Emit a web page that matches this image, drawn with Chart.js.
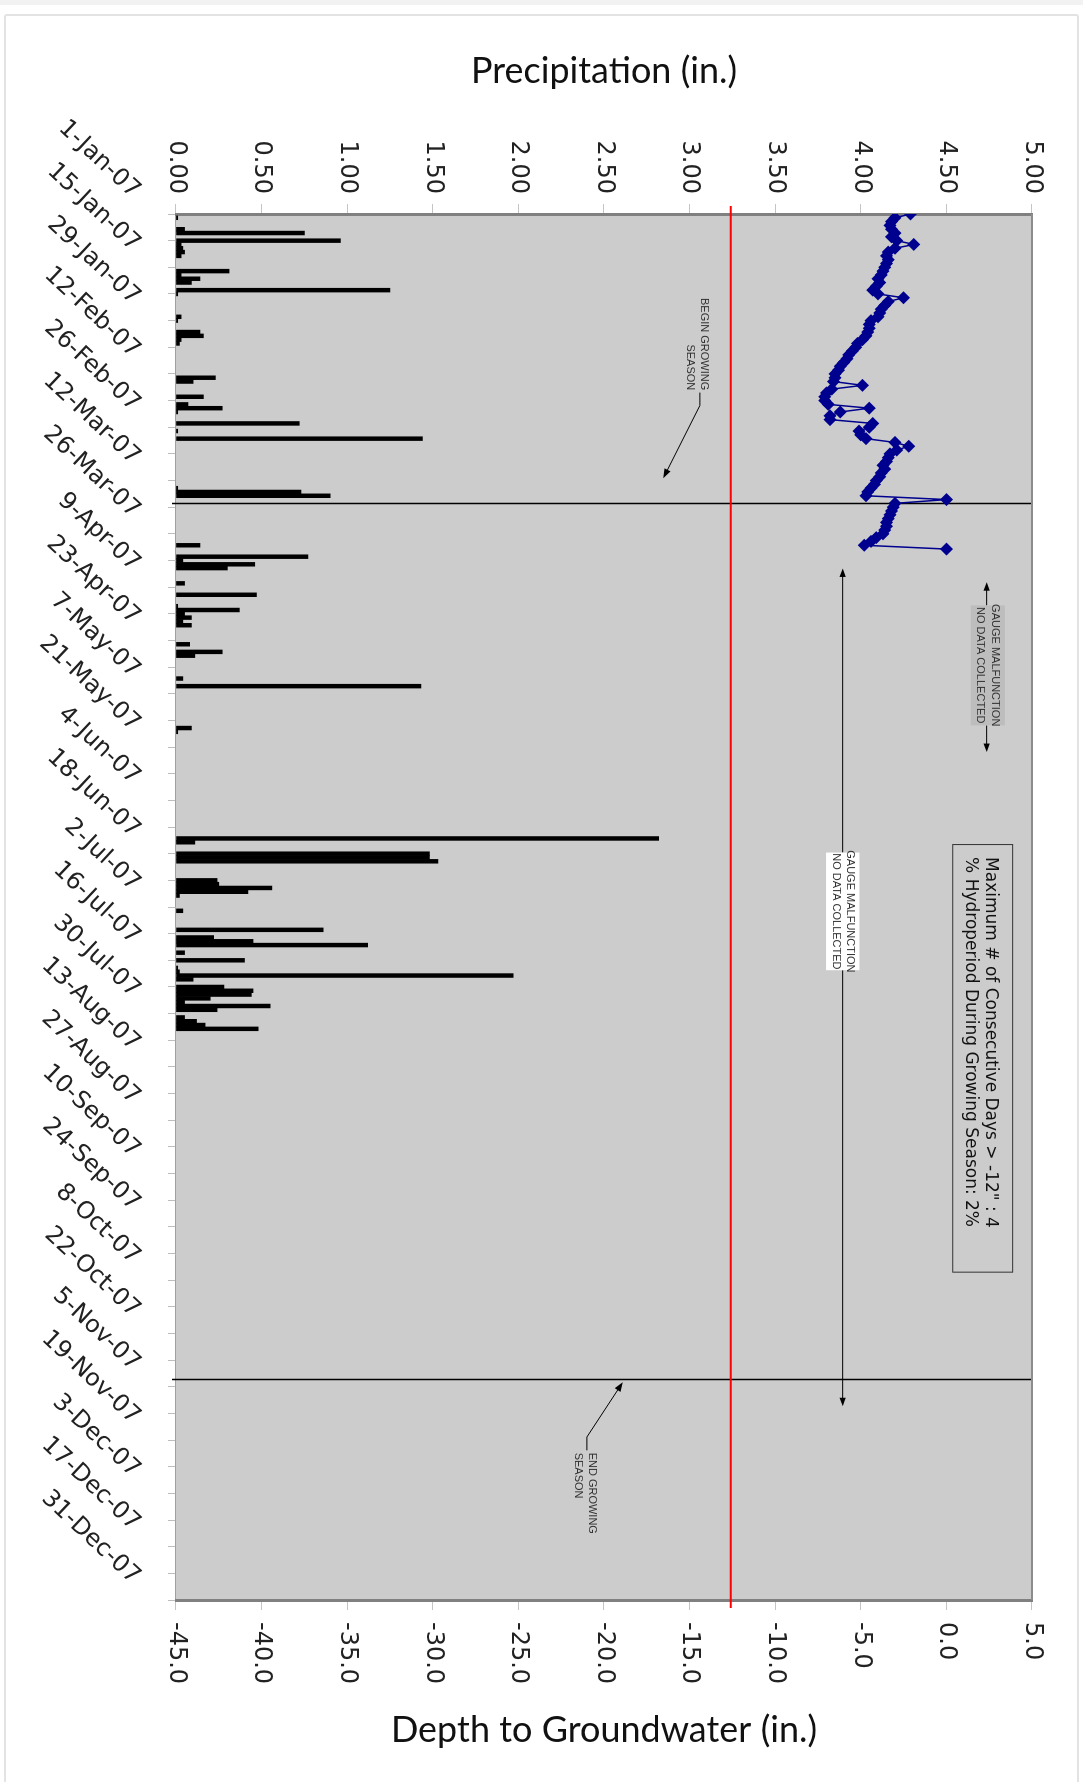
<!DOCTYPE html>
<html>
<head>
<meta charset="utf-8">
<title>Precipitation and Depth to Groundwater 2007</title>
<script src="https://cdn.jsdelivr.net/npm/chart.js@4.4.1/dist/chart.umd.min.js"></script>
<style>
  html, body { margin: 0; padding: 0; background: #fff; }
  body { width: 1083px; height: 1782px; position: relative; overflow: hidden; }
  #topBand { position: absolute; left: 0; top: 0; width: 1083px; height: 5px; background: #f2f2f2; }
  #frame { position: absolute; left: 4px; top: 14px; width: 1071px; height: 1800px; border: 2px solid #e3e3e3; border-radius: 3px; }
  /* the chart is laid out landscape and turned a quarter clockwise */
  #chartWrap { position: absolute; left: 0; top: 0; width: 1782px; height: 1083px; transform-origin: 0 0; transform: translate(1083px, 0) rotate(90deg); }
</style>
</head>
<body>
<div id="topBand"></div>
<div id="frame"></div>
<div id="chartWrap"><canvas id="gwChart" width="1782" height="1083"></canvas></div>
<script>
// --- data (day 0 = 1-Jan-07) ---
const dateTickLabels = ['1-Jan-07', '15-Jan-07', '29-Jan-07', '12-Feb-07', '26-Feb-07', '12-Mar-07', '26-Mar-07',
    '9-Apr-07', '23-Apr-07', '7-May-07', '21-May-07', '4-Jun-07', '18-Jun-07', '2-Jul-07', '16-Jul-07',
    '30-Jul-07', '13-Aug-07', '27-Aug-07', '10-Sep-07', '24-Sep-07', '8-Oct-07', '22-Oct-07', '5-Nov-07',
    '19-Nov-07', '3-Dec-07', '17-Dec-07', '31-Dec-07'];

// daily rainfall, only days with rain
const precipDays = [1, 4, 5, 7, 8, 9, 10, 11, 15, 16, 17, 18, 20, 21, 27, 28, 31, 32, 33, 34,
    43, 44, 48, 50, 51, 52, 55, 57, 59, 72, 73, 74, 87, 90, 91, 92, 93, 97, 100, 103,
    104, 105, 106, 107, 108, 113, 115, 116, 122, 124, 135, 136, 164, 165, 168, 169, 170, 175, 176, 177,
    178, 179, 183, 188, 190, 191, 192, 194, 196, 198, 199, 200, 201, 203, 204, 205, 206, 207, 208, 209,
    211, 212, 213, 214];
const precipInches = [0.01, 0.05, 0.75, 0.96, 0.03, 0.04, 0.05, 0.03, 0.31, 0.03, 0.14, 0.09, 1.25, 0.01, 0.03, 0.01, 0.14, 0.16, 0.03, 0.02,
    0.23, 0.10, 0.16, 0.07, 0.27, 0.01, 0.72, 0.01, 1.44, 0.01, 0.73, 0.90, 0.14, 0.77, 0.04, 0.46, 0.30, 0.05, 0.47, 0.01,
    0.37, 0.05, 0.09, 0.04, 0.09, 0.08, 0.27, 0.11, 0.04, 1.43, 0.09, 0.01, 2.82, 0.11, 1.48, 1.48, 1.53, 0.24, 0.25, 0.56,
    0.42, 0.02, 0.04, 0.86, 0.22, 0.45, 1.12, 0.05, 0.40, 0.01, 0.02, 1.97, 0.10, 0.28, 0.45, 0.44, 0.20, 0.05, 0.55, 0.24,
    0.05, 0.12, 0.17, 0.48];

// daily groundwater depth from the first day until the gauge stopped
const gwStartDay = 0;
const gwDepth = [-2.1, -3.0, -3.2, -3.3, -3.2, -3.0, -3.2, -2.9, -1.9, -3.0,
    -3.4, -3.5, -3.4, -3.5, -3.6, -3.7, -3.8, -4.0, -3.9, -4.1,
    -4.3, -4.0, -2.5, -3.4, -3.6, -3.8, -3.9, -4.0, -4.4, -4.5,
    -4.5, -4.6, -4.7, -4.9, -5.2, -5.3, -5.5, -5.7, -5.8, -6.0,
    -6.2, -6.3, -6.5, -6.5, -6.6, -4.9, -6.7, -7.0, -7.1, -7.1,
    -6.9, -4.5, -6.2, -6.8, -6.8, -4.3, -4.5, -5.1, -5.0, -4.7,
    -3.0, -2.2, -2.9, -3.3, -3.4, -3.5, -3.7, -3.6, -3.8, -3.9,
    -4.1, -4.2, -4.4, -4.6, -4.7, 0.0, -3.0, -3.1, -3.2, -3.3,
    -3.4, -3.5, -3.5, -3.6, -3.7, -4.1, -4.4, -4.8, 0.0];

const thresholdDepth = -12.6;
const seasonStartDay = 76;
const seasonEndDay = 306;

const tickFont = { family: 'DejaVu Sans', size: 24 };
const titleFont = { family: 'Lato', size: 36 };

// small helper: line with a filled arrow head at (x2, y2)
function drawArrow(ctx, x1, y1, x2, y2, head) {
    const ang = Math.atan2(y2 - y1, x2 - x1);
    ctx.beginPath();
    ctx.moveTo(x1, y1);
    ctx.lineTo(x2 - Math.cos(ang) * head * 0.8, y2 - Math.sin(ang) * head * 0.8);
    ctx.stroke();
    ctx.beginPath();
    ctx.moveTo(x2, y2);
    ctx.lineTo(x2 - head * Math.cos(ang - 0.35), y2 - head * Math.sin(ang - 0.35));
    ctx.lineTo(x2 - head * Math.cos(ang + 0.35), y2 - head * Math.sin(ang + 0.35));
    ctx.closePath();
    ctx.fill();
}

const plotFramePlugin = {
    id: 'plotFrame',
    beforeDraw(chart) {
        const { ctx, chartArea: a } = chart;
        ctx.save();
        ctx.fillStyle = '#cccccc';
        ctx.fillRect(a.left, a.top, a.right - a.left, a.bottom - a.top);
        ctx.restore();
    },
    beforeDatasetsDraw(chart) {
        const { ctx, chartArea: a, scales } = chart;
        ctx.save();
        // growing season limits
        ctx.strokeStyle = '#000';
        ctx.lineWidth = 1.5;
        [seasonStartDay, seasonEndDay].forEach(d => {
            const x = Math.round(scales.x.getPixelForValue(d)) + 0.5;
            ctx.beginPath();
            ctx.moveTo(x, a.bottom + 4);
            ctx.lineTo(x, a.top);
            ctx.stroke();
        });
        // -12" threshold
        const yr = scales.yD.getPixelForValue(thresholdDepth);
        ctx.strokeStyle = '#ff0000';
        ctx.lineWidth = 2;
        ctx.beginPath();
        ctx.moveTo(a.left - 8, yr);
        ctx.lineTo(a.right + 8, yr);
        ctx.stroke();
        ctx.restore();
    },
    afterDatasetsDraw(chart) {
        const { ctx, chartArea: a, scales } = chart;
        const X = d => scales.x.getPixelForValue(d);
        const Y = p => scales.yP.getPixelForValue(p);
        ctx.save();
        ctx.fillStyle = '#000';
        ctx.strokeStyle = '#000';
        ctx.lineWidth = 1;

        // begin growing season note
        ctx.font = '11px "Liberation Sans Narrow", "Liberation Sans", sans-serif';
        ctx.fillStyle = '#333';
        ctx.textAlign = 'right';
        ctx.textBaseline = 'middle';
        ctx.fillText('BEGIN GROWING', X(46.3), Y(3.084));
        ctx.fillText('SEASON', X(46.3), Y(3.002));
        ctx.fillStyle = '#000';
        ctx.beginPath();
        ctx.moveTo(X(46.9), Y(3.06));
        ctx.lineTo(X(50.3), Y(3.06));
        ctx.stroke();
        drawArrow(ctx, X(50.3), Y(3.06), X(69.4), Y(2.846), 10);

        // end growing season note
        ctx.fillStyle = '#333';
        ctx.textAlign = 'left';
        ctx.fillText('END GROWING', X(325.3), Y(2.43));
        ctx.fillText('SEASON', X(325.3), Y(2.35));
        ctx.fillStyle = '#000';
        ctx.beginPath();
        ctx.moveTo(X(324.7), Y(2.40));
        ctx.lineTo(X(321.2), Y(2.40));
        ctx.stroke();
        drawArrow(ctx, X(321.2), Y(2.40), X(306.8), Y(2.61), 10);

        // groundwater gauge gap
        ctx.fillStyle = '#000';
        drawArrow(ctx, X(102.8), Y(4.735), X(96.7), Y(4.735), 9);
        drawArrow(ctx, X(134.3), Y(4.735), X(141.3), Y(4.735), 9);
        ctx.fillStyle = '#bdbdbd';
        ctx.fillRect(X(102.8), Y(4.842), X(134.3) - X(102.8), Y(4.642) - Y(4.842));
        ctx.fillStyle = '#333';
        ctx.textAlign = 'center';
        ctx.fillText('GAUGE MALFUNCTION', X(118.5), Y(4.784));
        ctx.fillText('NO DATA COLLECTED', X(118.5), Y(4.696));

        // rain gauge gap
        ctx.fillStyle = '#000';
        drawArrow(ctx, X(167.7), Y(3.894), X(93.1), Y(3.894), 9);
        drawArrow(ctx, X(198.6), Y(3.894), X(313.1), Y(3.894), 9);
        ctx.fillStyle = '#ffffff';
        ctx.fillRect(X(167.7), Y(3.992), X(198.6) - X(167.7), Y(3.797) - Y(3.992));
        ctx.fillStyle = '#333';
        ctx.fillText('GAUGE MALFUNCTION', X(183.15), Y(3.937));
        ctx.fillText('NO DATA COLLECTED', X(183.15), Y(3.855));

        // summary box
        ctx.strokeStyle = '#333';
        ctx.strokeRect(X(165.6), Y(4.887), X(277.9) - X(165.6), Y(4.537) - Y(4.887));
        ctx.fillStyle = '#111';
        ctx.textAlign = 'left';
        ctx.font = '17px "DejaVu Sans", sans-serif';
        ctx.fillText('Maximum # of Consecutive Days > -12" : 4', X(168.9), Y(4.755));
        ctx.fillText('% Hydroperiod During Growing Season: 2%', X(168.9), Y(4.642));
        ctx.restore();
    },
    afterDraw(chart) {
        const { ctx, chartArea: a, scales } = chart;
        ctx.save();
        // top edge of the plot
        ctx.strokeStyle = '#8c8c8c';
        ctx.lineWidth = 2;
        ctx.beginPath();
        ctx.moveTo(a.left, a.top);
        ctx.lineTo(a.right, a.top);
        ctx.stroke();
        // depth axis title, turned so it reads across once the page is rotated
        ctx.translate(scales.yD.right - 52, (a.top + a.bottom) / 2);
        ctx.rotate(-Math.PI / 2);
        ctx.font = `${titleFont.size}px ${titleFont.family}`;
        ctx.fillStyle = '#111';
        ctx.textAlign = 'center';
        ctx.textBaseline = 'middle';
        ctx.fillText('Depth to Groundwater (in.)', 0, 0);
        ctx.restore();
    }
};

const precipData = precipDays.map((d, i) => ({ x: d, y: precipInches[i] }));
const gwData = gwDepth.map((v, i) => ({ x: gwStartDay + i, y: v }));

new Chart(document.getElementById('gwChart'), {
    type: 'bar',
    data: {
        datasets: [
            {
                type: 'line',
                label: 'Depth to Groundwater',
                data: gwData,
                xAxisID: 'x',
                yAxisID: 'yD',
                borderColor: '#00008f',
                backgroundColor: '#00008f',
                borderWidth: 1.5,
                pointStyle: 'rectRot',
                pointRadius: 6.5,
                pointBorderWidth: 0,
                tension: 0,
                order: 0
            },
            {
                type: 'bar',
                label: 'Precipitation',
                data: precipData,
                xAxisID: 'x',
                yAxisID: 'yP',
                backgroundColor: '#000000',
                borderWidth: 0,
                barPercentage: 1,
                categoryPercentage: 1,
                order: 1
            }
        ]
    },
    options: {
        responsive: false,
        animation: false,
        events: [],
        layout: { padding: { top: 51, left: 0, right: 0, bottom: 0 } },
        plugins: { legend: { display: false }, tooltip: { enabled: false } },
        scales: {
            x: {
                type: 'linear',
                position: 'bottom',
                min: 0,
                max: 364,
                offset: false,
                grid: { offset: false, drawOnChartArea: false, tickLength: 8, color: '#bdbdbd' },
                border: { color: '#a0a0a0', width: 1 },
                ticks: {
                    stepSize: 7,
                    maxTicksLimit: 100,
                    autoSkip: false,
                    minRotation: 47,
                    maxRotation: 47,
                    padding: 22,
                    labelOffset: -20,
                    font: tickFont,
                    color: '#222',
                    callback: v => (v % 14 === 0 ? dateTickLabels[v / 14] : '')
                },
                afterFit: s => { s.height = 176; }
            },
            yP: {
                type: 'linear',
                position: 'left',
                min: 0,
                max: 5,
                grid: { drawOnChartArea: false, tickLength: 10, color: '#c4c4c4' },
                border: { color: '#808080', width: 3 },
                ticks: { stepSize: 0.5, padding: 10, font: tickFont, color: '#222', callback: v => v.toFixed(2) },
                title: { display: true, text: 'Precipitation (in.)', font: titleFont, color: '#111', padding: { top: 50, bottom: 0 } },
                afterFit: s => { s.width = 214; }
            },
            yD: {
                type: 'linear',
                position: 'right',
                min: -45,
                max: 5,
                grid: { drawOnChartArea: false, tickLength: 10, color: '#c4c4c4' },
                border: { color: '#808080', width: 3 },
                ticks: { stepSize: 5, padding: 12, font: tickFont, color: '#222', callback: v => v.toFixed(1) },
                afterFit: s => { s.width = 182; }
            }
        }
    },
    plugins: [plotFramePlugin]
});
</script>
</body>
</html>
